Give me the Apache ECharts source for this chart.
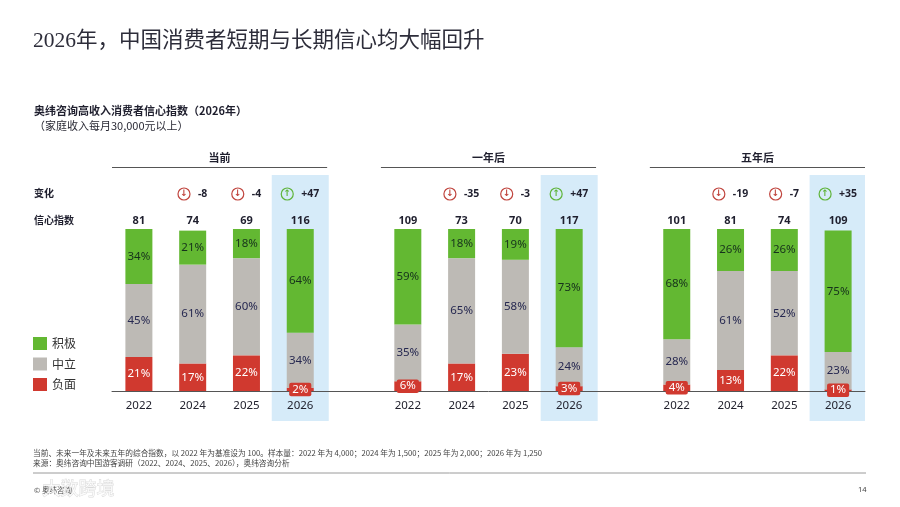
<!DOCTYPE html>
<html>
<head>
<meta charset="utf-8">
<script src="https://cdn.jsdelivr.net/npm/echarts@6/dist/echarts.min.js"></script>
<style>
html,body{margin:0;padding:0;background:#fff;}
#chart{width:900px;height:507px;}
</style>
</head>
<body>
<div id="chart"></div>
<script>
// ---- data ----
const categories = ['2022','2024','2025','2026','', '2022','2024','2025','2026','', '2022','2024','2025','2026'];
const positive   = [34, 21, 18, 64, null, 59, 18, 19, 73, null, 68, 26, 26, 75];
const neutral    = [45, 61, 60, 34, null, 35, 65, 58, 24, null, 28, 61, 52, 23];
const negative   = [21, 17, 22, 2,  null, 6,  17, 23, 3,  null, 4,  13, 22, 1];
const indexVals  = [81, 74, 69, 116, null, 109, 73, 70, 117, null, 101, 81, 74, 109];
const changes    = [null, -8, -4, 47, null, null, -35, -3, 47, null, null, -19, -7, 35];
const groupNames = ['当前', '一年后', '五年后'];
const seriesNames = ['积极', '中立', '负面'];
const highlightYear = '2026';

// ---- styles ----
const GREEN = '#63b832', GREY = '#bdbab5', RED = '#d0392f', HL = '#d6ebf9';
const FONT = '"Noto Sans","Noto Sans CJK SC",sans-serif';
const CJK = '"Noto Sans CJK SC","Noto Sans",sans-serif';

const chart = echarts.init(document.getElementById('chart'), null, {renderer: 'canvas'});

const smallRedLabel = {
  position: 'inside', color: '#fff', backgroundColor: RED,
  padding: [1, 3], borderRadius: 2
};
const negData = negative.map(v => (v != null && v < 8) ? {value: v, label: smallRedLabel} : v);
const hlData = categories.map(c => c === highlightYear ? 1 : null);

const pctLabel = (color) => ({
  show: true, position: 'inside', formatter: '{c}%', color: color,
  fontSize: 11.5, fontFamily: FONT
});

const gLeft = 112, gRight = 35;
const slot = (900 - gLeft - gRight) / categories.length;
const groupCenter = g => gLeft + slot * (g * 5 + 2);

const graphics = [
  {type: 'text', left: 33, top: 31, style: {text: '2026年，中国消费者短期与长期信心均大幅回升', fontSize: 21.5, fill: '#2d2d3a', fontFamily: '"Liberation Serif","Noto Sans CJK SC",serif'}},
  {type: 'text', left: 34, top: 105, style: {text: '奥纬咨询高收入消费者信心指数（2026年）', fontSize: 11, fontWeight: 'bold', fill: '#1f1f2e', fontFamily: CJK}},
  {type: 'text', left: 34, top: 120, style: {text: '（家庭收入每月30,000元以上）', fontSize: 11, fill: '#2a2a35', fontFamily: CJK}},
  {type: 'text', left: 34, top: 188, style: {text: '变化', fontSize: 10, fontWeight: 'bold', fill: '#1f1f2e', fontFamily: CJK}},
  {type: 'text', left: 34, top: 215, style: {text: '信心指数', fontSize: 10, fontWeight: 'bold', fill: '#1f1f2e', fontFamily: CJK}},
  {type: 'text', left: 33, top: 449, style: {text: '当前、未来一年及未来五年的综合指数，以 2022 年为基准设为 100。样本量：2022 年为 4,000；2024 年为 1,500；2025 年为 2,000；2026 年为 1,250', fontSize: 7.7, fill: '#444', fontFamily: CJK}},
  {type: 'text', left: 33, top: 459, style: {text: '来源：奥纬咨询中国游客调研（2022、2024、2025、2026），奥纬咨询分析', fontSize: 7.7, fill: '#444', fontFamily: CJK}},
  {type: 'line', shape: {x1: 33, y1: 473, x2: 866, y2: 473}, style: {stroke: '#9a9a9a', lineWidth: 1}},
  {type: 'text', left: 34, top: 486, style: {text: '© 奥纬咨询', fontSize: 7.5, fill: '#444', fontFamily: CJK}},
  {type: 'text', left: 42, top: 479, style: {text: '大数跨境', fontSize: 18, fill: 'rgba(255,255,255,0.7)', stroke: 'rgba(190,190,190,0.6)', lineWidth: 0.8, fontFamily: CJK}},
  {type: 'text', left: 858, top: 486, style: {text: '14', fontSize: 7.5, fill: '#444', fontFamily: FONT}}
];
groupNames.forEach((name, g) => {
  const x1 = gLeft + slot * g * 5, x2 = gLeft + slot * (g * 5 + 4);
  graphics.push({type: 'line', shape: {x1: x1, y1: 167.5, x2: x2, y2: 167.5}, style: {stroke: '#555', lineWidth: 1}});
  graphics.push({type: 'text', x: groupCenter(g), y: 158, style: {text: name, fontSize: 11, fontWeight: 'bold', fill: '#1f1f2e', fontFamily: CJK, align: 'center', verticalAlign: 'middle'}});
});

const option = {
  backgroundColor: '#fff',
  animation: false,
  textStyle: {fontFamily: FONT},
  legend: {
    data: seriesNames, orient: 'vertical', left: 33, top: 337, padding: 0,
    icon: 'rect', itemWidth: 14, itemHeight: 13, itemGap: 7.5,
    textStyle: {fontSize: 12, color: '#333', fontFamily: CJK}
  },
  grid: [
    {left: gLeft, right: gRight, top: 229, bottom: 116},
    {left: gLeft, right: gRight, top: 175, bottom: 86}
  ],
  xAxis: [
    {type: 'category', gridIndex: 0, data: categories, position: 'bottom', z: 1,
     axisLine: {lineStyle: {color: '#555', width: 1}}, axisTick: {show: false},
     axisLabel: {interval: 0, color: '#22222e', fontSize: 11.5, margin: 9}},
    {type: 'category', gridIndex: 0, data: categories, position: 'top',
     axisLine: {show: false}, axisTick: {show: false},
     axisLabel: {
       interval: 0, margin: 1,
       formatter: (v, i) => {
         if (!v) return '';
         const c = changes[i];
         const l1 = c == null ? '{blank| }' :
           (c < 0 ? '{dn|↓}' : '{up|↑}') + '{chg|' + (c > 0 ? '+' + c : String(c)) + '}';
         return l1 + '\n{idx|' + indexVals[i] + '}';
       },
       rich: {
         blank: {lineHeight: 40, fontSize: 10},
         dn: {fontFamily: 'DejaVu Sans', fontSize: 9, fontWeight: 'bold', color: '#c0453e', borderColor: '#c0453e', borderWidth: 1.2, borderRadius: 7, width: 12, height: 12, align: 'center', lineHeight: 40},
         up: {fontFamily: 'DejaVu Sans', fontSize: 9, fontWeight: 'bold', color: '#5fb43a', borderColor: '#5fb43a', borderWidth: 1.2, borderRadius: 7, width: 12, height: 12, align: 'center', lineHeight: 40},
         chg: {fontSize: 10.5, fontWeight: 'bold', color: '#1f1f2e', padding: [0, 0, 0, 8], lineHeight: 40},
         idx: {fontSize: 11, fontWeight: 'bold', color: '#1f1f2e', lineHeight: 14}
       }
     }},
    {type: 'category', gridIndex: 1, data: categories, show: false}
  ],
  yAxis: [
    {type: 'value', gridIndex: 0, min: 0, max: 100, show: false},
    {type: 'value', gridIndex: 1, min: 0, max: 1, show: false}
  ],
  series: [
    {type: 'bar', name: 'highlight', xAxisIndex: 2, yAxisIndex: 1, data: hlData,
     barWidth: 57, itemStyle: {color: HL}, silent: true, z: 0},
    {type: 'bar', name: '负面', stack: 'a', data: negData, barWidth: 27, z: 2,
     itemStyle: {color: RED}, label: pctLabel('#ffffff')},
    {type: 'bar', name: '中立', stack: 'a', data: neutral, barWidth: 27, z: 2,
     itemStyle: {color: GREY}, label: pctLabel('#262850')},
    {type: 'bar', name: '积极', stack: 'a', data: positive, barWidth: 27, z: 2,
     itemStyle: {color: GREEN}, label: pctLabel('#16321c')}
  ],
  graphic: graphics
};
chart.setOption(option);
</script>
</body>
</html>
